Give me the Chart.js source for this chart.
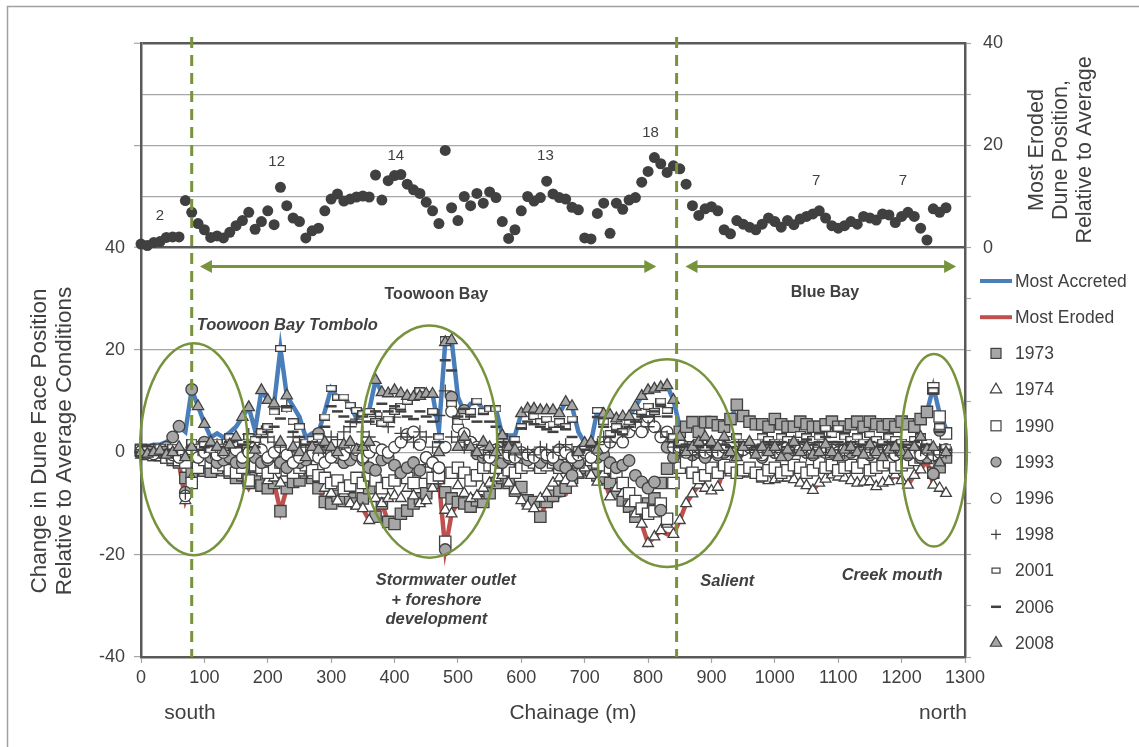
<!DOCTYPE html>
<html><head><meta charset="utf-8">
<script src="https://cdn.jsdelivr.net/npm/chart.js@4.4.0/dist/chart.umd.min.js"></script>
<style>html,body{margin:0;padding:0;background:#fff;overflow:hidden}#wrap{position:relative;width:1139px;height:747px}</style>
</head><body><div id="wrap"><canvas id="c" width="1139" height="747"></canvas></div>
<script>
// ---------------- DATA ----------------
const chainage = [0,10,20,30,40,50,60,70,80,90,
 100,110,120,130,140,150,160,170,180,190,
 200,210,220,230,240,250,260,270,280,290,
 300,310,320,330,340,350,360,370,380,390,
 400,410,420,430,440,450,460,470,480,490,
 500,510,520,530,540,550,560,570,580,590,
 600,610,620,630,640,650,660,670,680,690,
 700,710,720,730,740,750,760,770,780,790,
 800,810,820,830,840,850,860,870,880,890,
 900,910,920,930,940,950,960,970,980,990,
 1000,1010,1020,1030,1040,1050,1060,1070,1080,1090,
 1100,1110,1120,1130,1140,1150,1160,1170,1180,1190,
 1200,1210,1220,1230,1240,1250,1260,1270];

// top panel: most eroded dune position relative to average (right axis 0-40)
const mostErodedPosition = [0.7,0.4,1.0,1.2,2.0,2.1,2.1,9.2,6.9,4.7,
 3.5,2.0,2.3,1.9,3.0,4.3,5.3,6.9,3.6,5.1,
 7.2,4.5,11.8,8.2,5.8,5.1,1.9,3.3,3.8,7.2,
 9.5,10.5,9.1,9.5,9.9,10.1,9.9,14.2,9.3,13.1,
 14.1,14.3,12.4,11.3,10.6,8.9,7.2,4.7,19.0,7.8,
 5.3,10.0,8.2,10.6,8.7,10.9,9.8,5.1,1.8,3.5,
 7.2,10.0,9.1,9.8,13.0,10.5,9.8,9.5,7.9,7.4,
 1.9,1.7,6.7,8.7,2.8,8.7,7.5,9.3,9.8,12.8,
 14.9,17.6,16.4,14.7,16.0,15.4,12.4,8.2,6.3,7.6,
 8.0,7.2,3.5,2.7,5.3,4.6,4.0,3.5,4.6,5.8,
 5.1,4.0,5.3,4.5,5.6,6.1,6.6,7.2,5.8,4.3,
 3.8,4.3,5.1,4.6,6.1,5.8,5.4,6.6,6.4,4.9,
 6.1,6.9,6.1,3.8,1.5,7.6,6.9,7.8];

const mostAccreted = [1.0,1.2,1.5,1.5,2.0,3.0,5.1,4.0,12.3,9.0,
 5.7,2.9,3.7,2.9,3.9,5.0,6.9,8.8,4.3,12.1,
 10.2,9.5,20.3,11.1,9.0,6.9,2.9,3.7,3.9,8.0,
 12.5,10.8,10.8,9.2,6.6,8.2,8.2,14.1,11.7,11.5,
 12.1,11.5,11.0,10.8,12.0,11.4,11.4,4.3,21.5,22.0,
 10.8,7.9,9.5,9.8,8.5,8.5,8.5,3.3,3.3,3.3,
 7.6,8.5,8.5,8.2,8.2,8.2,7.6,9.8,9.0,4.0,
 1.8,2.0,8.2,7.5,7.3,6.6,7.0,7.0,8.9,11.0,
 12.1,12.4,12.7,13.1,10.2,5.0,5.0,5.9,4.0,5.9,
 5.9,5.3,5.0,6.5,9.3,7.1,6.0,5.5,5.5,5.0,
 6.5,5.5,5.0,5.0,6.0,5.5,5.0,5.0,5.5,6.0,
 5.0,5.0,5.5,6.0,5.0,6.0,5.5,5.0,5.5,5.0,
 6.0,5.5,5.0,6.5,7.9,12.8,7.6,4.7];

const mostEroded = [-0.5,-0.8,-1.0,-1.0,-1.2,-1.5,-2.2,-9.4,-6.0,-3.0,
 -3.6,-3.8,-3.0,-3.5,-4.0,-5.0,-4.5,-7.0,-5.0,-6.5,
 -7.0,-6.0,-11.5,-7.0,-5.8,-5.5,-4.0,-5.0,-7.0,-9.7,
 -10.0,-9.5,-9.5,-10.0,-10.5,-11.0,-13.3,-12.6,-10.0,-13.6,
 -14.0,-12.0,-11.5,-10.0,-10.0,-9.4,-7.0,-5.5,-19.0,-12.0,
 -9.7,-10.0,-10.6,-9.4,-9.7,-8.0,-6.5,-5.0,-6.0,-7.5,
 -9.4,-10.5,-11.0,-12.6,-9.7,-9.4,-8.5,-8.2,-6.0,-4.2,
 -3.0,-4.5,-5.8,-5.0,-8.7,-8.0,-9.4,-10.6,-12.6,-14.0,
 -17.8,-16.5,-15.3,-16.0,-16.0,-13.3,-10.0,-8.1,-6.4,-7.0,
 -7.5,-6.8,-3.2,-4.0,-4.5,-4.2,-4.2,-4.5,-5.2,-5.5,
 -5.3,-5.0,-5.0,-5.3,-6.0,-6.5,-7.4,-6.0,-5.2,-4.4,
 -4.8,-5.0,-5.5,-6.0,-5.8,-5.7,-6.7,-6.0,-5.7,-4.4,
 -5.5,-6.4,-4.5,-3.4,-1.6,-6.4,-7.0,-8.0];

const y1973 = [0.5,0.3,0.0,-0.3,-1.0,-1.5,-2.0,-5.0,-4.0,-3.0,
 -3.6,-3.8,-3.0,-3.5,-4.0,-5.0,-4.5,-6.0,-5.0,-6.5,
 -7.0,-6.0,-11.5,-7.0,-5.8,-5.5,-4.0,-5.0,-7.0,-9.7,
 -10.0,-8.5,-9.5,-9.0,-10.0,-9.0,-7.0,-12.6,-10.0,-13.6,
 -14.0,-12.0,-11.4,-10.0,-9.0,-8.0,-6.0,-5.0,-7.8,-9.0,
 -9.7,-10.0,-10.6,-9.4,-9.7,-8.0,-6.0,-5.0,-6.0,-7.5,
 -6.8,-9.4,-9.7,-12.6,-9.7,-8.5,-7.5,-6.9,-5.0,-4.0,
 -3.0,-3.5,-4.5,-5.0,-6.0,-8.0,-9.4,-10.6,-12.6,-11.3,
 -10.0,-9.0,-6.0,-3.2,2.0,4.0,5.0,5.9,4.0,5.9,
 5.9,5.3,5.0,6.5,9.3,7.1,6.0,5.5,5.5,5.0,
 6.5,5.5,5.0,5.0,6.0,5.5,5.0,5.0,5.5,6.0,
 5.0,5.0,5.5,6.0,5.0,6.0,5.5,5.0,5.5,5.0,
 6.0,5.5,5.0,6.5,7.9,-4.0,-2.9,-1.0];

const y1974 = [-0.5,-0.8,-1.0,-1.0,-1.2,-1.5,-2.0,-9.4,-5.0,-3.0,
 -2.5,-2.0,-2.5,-1.5,-3.0,-2.5,-3.0,-5.0,-3.0,-4.0,
 -5.5,-5.0,-6.0,-4.0,-3.0,-4.0,-3.5,-4.5,-5.0,-7.0,
 -8.0,-9.5,-8.0,-10.0,-10.5,-11.0,-13.3,-9.0,-10.0,-9.0,
 -8.5,-9.0,-7.0,-8.5,-10.0,-9.4,-7.0,-5.5,-11.3,-12.0,
 -6.5,-8.0,-9.0,-8.5,-7.0,-6.0,-5.0,-4.5,-6.0,-7.5,
 -9.4,-10.5,-11.0,-9.0,-8.0,-6.0,-5.0,-5.5,-6.0,-4.2,
 -3.0,-4.5,-5.8,-4.2,-8.7,-7.0,-8.0,-10.0,-12.0,-14.0,
 -17.8,-16.5,-15.3,-14.0,-16.0,-13.3,-10.0,-8.1,-6.4,-7.0,
 -7.5,-6.8,-3.2,-4.0,-4.5,-4.2,-4.2,-4.5,-5.2,-5.5,
 -5.3,-5.0,-5.0,-5.3,-6.0,-6.5,-7.4,-6.0,-5.2,-4.4,
 -4.8,-5.0,-5.5,-6.0,-5.8,-5.7,-6.7,-6.0,-5.7,-4.4,
 -5.5,-6.4,-4.5,-3.4,-1.6,-6.4,-7.0,-8.0];

const y1990 = [0.3,0.0,-0.5,-0.5,-1.0,-1.0,-1.5,-2.0,-6.0,-3.0,
 -1.5,-2.0,-3.0,-2.5,-3.5,-4.0,-3.0,-5.5,-2.5,-3.0,
 -4.0,-3.0,-2.0,-3.5,-4.0,-3.0,-2.5,-3.5,-4.5,-5.0,
 -6.0,-5.5,-7.0,-6.5,-5.0,-6.0,-4.5,-5.5,-7.0,-6.0,
 -5.5,-4.0,-5.0,-6.0,-3.5,-4.0,-5.0,-4.5,-17.5,-4.0,
 -3.0,-4.0,-5.5,-4.5,-3.0,-2.5,-3.0,-2.0,-3.5,-4.0,
 -3.0,-2.5,-2.0,-3.0,-2.5,-2.0,-3.0,-2.5,-1.5,-2.0,
 -1.0,-1.5,-2.0,-2.5,-3.0,-4.0,-6.0,-8.0,-9.5,-11.0,
 -12.0,-11.5,-10.0,-13.0,-6.0,-3.0,-2.0,-4.0,-5.0,-4.5,
 -3.0,-4.0,-2.5,-3.0,-4.0,-3.5,-3.0,-4.0,-4.5,-3.5,
 -3.0,-4.0,-3.5,-2.5,-3.0,-4.0,-3.5,-2.0,-3.0,-2.5,
 -3.5,-3.0,-2.5,-3.0,-2.0,-3.5,-3.0,-2.5,-2.0,-3.0,
 -2.5,-2.0,-1.5,-1.0,0.5,12.5,7.0,3.7];

const y1993 = [0.0,0.3,0.5,0.0,1.0,3.0,5.1,-7.8,12.3,1.0,
 2.0,-1.0,-2.0,-1.5,-1.0,-2.0,-2.0,0.0,-1.0,-2.0,
 -1.5,-0.5,-2.0,-3.0,-1.0,-2.0,-1.5,-0.5,3.7,1.0,
 0.0,-1.0,-2.0,-1.5,-0.5,-1.5,-3.0,-3.5,-1.5,-1.0,
 -2.5,-4.0,-3.0,-2.0,-3.5,-1.0,-2.0,-3.0,-19.0,10.8,
 7.0,8.2,2.0,-0.3,-1.0,-0.5,-1.5,-2.0,-1.0,-0.5,
 -1.0,-1.5,-0.5,-2.0,-1.0,-1.5,-2.5,-3.0,-4.5,-2.0,
 0.5,1.0,-1.0,-0.5,-2.0,-3.0,-2.5,-1.6,-4.5,-5.8,
 -7.0,-5.8,-11.3,1.0,-1.0,0.5,1.0,-0.5,0.0,-1.0,
 0.5,-0.5,0.0,1.0,-0.5,0.5,1.5,0.0,-1.0,0.5,
 0.0,1.0,-0.5,0.5,1.0,0.0,-0.5,1.0,0.5,0.0,
 0.5,-0.5,0.0,1.0,0.5,-0.5,0.0,0.5,1.0,-0.5,
 0.0,-0.5,0.5,-1.0,-1.0,-4.2,4.3,0.5];

const y1996 = [0.2,0.0,-0.3,0.5,0.0,-0.5,-1.0,-8.5,0.5,-1.0,
 0.0,1.0,-0.5,0.0,1.5,0.5,-1.0,0.0,1.0,0.5,
 -1.0,0.0,1.0,-0.5,-2.0,-1.0,0.5,-0.5,-1.0,-2.0,
 -1.0,0.0,-0.5,1.0,0.5,-1.0,0.0,1.0,0.5,0.0,
 1.0,2.0,3.5,4.0,1.5,-1.0,-2.0,-3.0,1.0,8.0,
 5.0,3.7,2.0,1.0,0.0,-1.0,0.5,0.0,-0.5,-1.0,
 0.0,-0.5,-1.0,0.0,-0.5,-1.0,0.5,0.0,-1.0,-0.5,
 0.0,-1.0,0.5,1.0,2.0,3.0,2.0,4.0,5.3,4.0,
 6.9,5.0,3.0,4.0,1.0,1.0,0.0,0.5,1.0,0.0,
 0.5,0.0,1.0,1.0,0.0,0.5,1.0,0.0,-0.5,0.5,
 0.0,0.5,1.0,1.5,0.5,0.0,0.5,1.0,0.0,0.5,
 0.0,0.5,1.0,0.5,1.0,0.0,0.0,0.5,0.5,-0.5,
 0.0,0.5,0.0,-0.5,0.5,-0.5,0.0,0.5];

const y1998 = [0.0,0.3,0.5,0.0,-0.5,0.0,0.5,-8.0,1.0,0.5,
 1.0,0.0,1.5,0.5,1.0,2.0,1.0,3.5,2.0,4.0,
 3.0,2.0,1.0,9.0,3.0,2.0,1.0,1.5,0.5,2.0,
 3.0,2.5,4.0,5.0,6.5,4.0,3.0,7.0,6.6,5.0,
 6.9,3.7,3.0,2.0,4.0,3.0,1.0,7.2,12.0,3.0,
 2.0,1.0,1.5,0.5,-0.5,0.0,0.5,1.0,0.0,-0.5,
 0.5,0.0,-0.5,1.0,0.5,0.0,1.0,1.5,0.5,0.0,
 1.0,2.0,1.5,3.0,2.0,5.0,4.0,5.5,6.0,7.0,
 5.0,7.0,4.0,3.0,1.0,0.0,0.5,-0.5,0.0,0.5,
 0.0,0.5,1.0,0.0,-0.5,0.5,1.0,0.0,0.5,1.0,
 0.0,0.5,1.0,0.5,0.0,-0.5,0.5,1.0,0.0,0.5,
 0.5,0.0,1.0,0.5,0.0,0.5,1.0,0.5,0.0,0.5,
 0.0,0.5,1.0,0.5,0.0,-0.5,0.5,0.0];

const y2001 = [0.0,0.5,0.0,1.0,0.5,1.0,0.0,-1.0,2.0,1.0,
 1.5,0.5,2.0,1.0,3.0,1.5,2.0,3.0,2.5,4.0,
 5.0,7.9,20.3,8.5,6.0,5.0,2.0,2.5,3.0,6.9,
 12.5,10.8,10.8,9.2,8.2,7.5,8.0,6.0,5.7,6.5,
 8.0,9.0,10.0,10.8,12.0,11.4,8.0,3.0,22.0,9.5,
 6.0,7.0,8.0,10.0,8.0,8.5,8.5,3.0,2.0,2.5,
 5.0,7.5,7.0,6.0,6.5,5.5,6.0,5.0,6.5,0.5,
 1.0,1.5,8.2,6.0,3.7,5.0,4.0,6.0,7.0,8.0,
 9.0,8.0,10.0,8.2,3.0,2.0,1.0,1.5,2.0,1.0,
 1.5,2.0,1.0,2.5,3.0,2.0,1.5,2.0,3.0,2.5,
 2.0,3.0,2.5,2.0,3.5,3.0,2.5,3.0,4.7,3.5,
 4.7,3.0,2.5,3.0,2.0,3.5,2.5,2.0,3.0,2.5,
 2.0,1.5,2.5,3.0,2.0,12.0,5.0,1.0];

const y2006 = [0.0,0.3,0.5,0.0,0.5,0.0,0.5,-1.0,1.0,0.5,
 1.0,1.5,0.5,1.0,2.0,1.0,1.5,2.0,1.0,3.0,
 4.0,5.0,6.6,8.8,4.0,3.0,1.5,2.0,1.0,5.0,
 9.0,8.0,7.0,6.0,5.9,7.0,6.0,8.0,9.5,8.0,
 9.0,8.0,7.0,6.5,8.0,7.0,6.0,2.0,18.0,16.0,
 7.0,8.5,7.0,6.0,7.5,6.0,5.0,2.0,1.5,2.0,
 4.7,6.0,5.5,5.0,4.5,4.0,5.0,4.5,3.0,0.0,
 0.5,1.0,6.9,5.0,3.0,4.0,3.5,5.0,6.0,7.0,
 7.0,8.0,9.0,7.0,2.0,1.0,1.5,0.5,1.0,1.5,
 1.0,0.5,1.5,1.0,2.0,1.5,0.5,1.0,1.5,2.0,
 1.5,2.0,1.0,1.5,2.0,2.5,1.5,2.0,3.0,2.0,
 2.0,1.5,2.0,1.0,1.5,2.0,1.0,1.5,2.0,1.5,
 1.0,1.5,2.0,1.0,1.5,11.5,4.0,0.5];

const y2008 = [0.0,-0.3,0.0,0.3,-0.5,0.0,1.0,-1.0,1.0,9.0,
 5.5,2.0,1.0,0.0,1.5,3.0,6.9,8.8,0.5,12.1,
 10.2,9.5,2.0,11.1,1.0,0.0,-1.0,1.0,0.5,2.0,
 1.0,0.0,1.5,2.0,0.5,1.0,2.0,14.1,11.7,11.5,
 12.1,11.5,11.0,10.8,11.0,11.4,11.4,0.0,21.5,21.9,
 1.0,3.0,1.0,0.0,2.0,1.0,0.0,3.3,1.0,0.5,
 7.6,8.5,8.5,8.2,8.2,8.2,7.6,9.8,9.0,0.0,
 1.8,2.0,0.5,7.5,7.3,6.6,7.0,7.0,8.9,11.0,
 12.1,12.4,12.7,13.1,10.2,3.0,0.0,1.0,2.0,3.0,
 2.0,1.0,3.0,0.0,-1.0,1.0,2.0,-0.5,1.0,0.0,
 1.0,-1.0,0.5,2.0,0.0,1.0,-0.5,0.0,1.5,0.0,
 -1.0,0.5,1.0,0.0,-0.5,1.5,0.0,-1.0,0.5,1.0,
 0.0,-0.5,1.0,3.0,0.5,1.0,-2.0,0.0];

const xTicks = [0,100,200,300,400,500,600,700,800,900,1000,1100,1200,1300];
const leftTickLabels = [-40,-20,0,20,40];
const rightTickLabels = [0,20,40];
const peakLabels = ['2','12','14','13','18','7','7'];
const legendNames = ['Most Accreted','Most Eroded','1973','1974','1990','1993','1996','1998','2001','2006','2008'];

// ---------------- STYLE ----------------
const FONT = "'Liberation Sans', Arial, sans-serif";
const TXT = '#404040';
const GREEN = '#77933C';
const GRAYFILL = '#A6A6A6';
const EDGE = '#404040';
const BLUE = '#4A7EBB';
const RED = '#C0504D';

function pts(arr){ return chainage.map((c,i)=>({x:c, y:arr[i]})); }

function rectImg(w,h){
  const cv=document.createElement('canvas'); cv.width=w; cv.height=h;
  const g=cv.getContext('2d'); g.fillStyle='#fff'; g.fillRect(0,0,w,h);
  g.strokeStyle=EDGE; g.lineWidth=1.3; g.strokeRect(0.65,0.65,w-1.3,h-1.3); return cv;
}
const smallRect = rectImg(11,7);

function marker(label, arr, style, radius, fill, order, extra){
  return Object.assign({label, data: pts(arr), yAxisID:'y', showLine:false,
    pointStyle: style, pointRadius: radius, pointBackgroundColor: fill,
    pointBorderColor: EDGE, pointBorderWidth: 1.3, order, clip:false}, extra||{});
}

const datasets = [
  {label:'Most Eroded Dune Position', data: pts(mostErodedPosition), yAxisID:'yR', showLine:false,
   pointStyle:'circle', pointRadius:5.5, pointBackgroundColor:'#404040', pointBorderColor:'#404040', pointBorderWidth:0, order:0, clip:false},
  marker('2008', y2008, 'triangle', 6.5, GRAYFILL, 1),
  marker('2006', y2006, 'line', 5.5, EDGE, 2, {pointBorderWidth:2.5}),
  marker('2001', y2001, smallRect, 5, '#fff', 3),
  marker('1998', y1998, 'cross', 6.5, EDGE, 4),
  marker('1996', y1996, 'circle', 5.8, '#fff', 5),
  marker('1993', y1993, 'circle', 5.8, GRAYFILL, 6),
  marker('1990', y1990, 'rect', 8, '#fff', 7),
  marker('1974', y1974, 'triangle', 6.2, '#fff', 8),
  marker('1973', y1973, 'rect', 8, GRAYFILL, 9),
  {label:'Most Eroded', data: pts(mostEroded), yAxisID:'y', showLine:true, borderColor:RED, borderWidth:4.5,
   pointRadius:0, tension:0, order:10, clip:false},
  {label:'Most Accreted', data: pts(mostAccreted), yAxisID:'y', showLine:true, borderColor:BLUE, borderWidth:4.5,
   pointRadius:0, tension:0, order:11, clip:false}
];

// ---------------- ANNOTATIONS (data coordinates, left axis) ----------------
const regionLines = [80, 845];
const arrows = [{x1:93, x2:813, y:36.3}, {x1:859, x2:1286, y:36.3}];
const ellipses = [{cx:83.5, cy:0.6, rx:85, ry:20.7}, {cx:455, cy:2.1, rx:107, ry:22.7},
                  {cx:830, cy:-2.1, rx:109, ry:20.3}, {cx:1251, cy:0.4, rx:52, ry:18.8}];
const peakPos = [{x:30,y:46.3},{x:214,y:56.7},{x:402,y:58.0},{x:638,y:58.0},{x:804,y:62.5},{x:1065,y:53.0},{x:1202,y:53.0}];

function drawMarker(ctx, kind, x, y){
  ctx.save(); ctx.lineWidth=1.2; ctx.strokeStyle=EDGE;
  const tri=(r,f)=>{ctx.beginPath();ctx.moveTo(x,y-r);ctx.lineTo(x+r*0.87,y+r*0.5);ctx.lineTo(x-r*0.87,y+r*0.5);ctx.closePath();ctx.fillStyle=f;ctx.fill();ctx.stroke();};
  switch(kind){
    case '1973': ctx.fillStyle=GRAYFILL; ctx.fillRect(x-5,y-5,10,10); ctx.strokeRect(x-5,y-5,10,10); break;
    case '1974': tri(6.5,'#fff'); break;
    case '1990': ctx.fillStyle='#fff'; ctx.fillRect(x-5,y-5,10,10); ctx.strokeRect(x-5,y-5,10,10); break;
    case '1993': ctx.beginPath(); ctx.arc(x,y,5,0,Math.PI*2); ctx.fillStyle=GRAYFILL; ctx.fill(); ctx.stroke(); break;
    case '1996': ctx.beginPath(); ctx.arc(x,y,5,0,Math.PI*2); ctx.fillStyle='#fff'; ctx.fill(); ctx.stroke(); break;
    case '1998': ctx.beginPath(); ctx.moveTo(x-5,y); ctx.lineTo(x+5,y); ctx.moveTo(x,y-5); ctx.lineTo(x,y+5); ctx.stroke(); break;
    case '2001': ctx.fillStyle='#fff'; ctx.fillRect(x-4,y-2.5,8,5); ctx.strokeRect(x-4,y-2.5,8,5); break;
    case '2006': ctx.lineWidth=2.5; ctx.beginPath(); ctx.moveTo(x-5,y); ctx.lineTo(x+5,y); ctx.stroke(); break;
    case '2008': tri(6.5,GRAYFILL); break;
  }
  ctx.restore();
}

function rotText(ctx, lines, cx, cy, lh, font){
  ctx.save(); ctx.translate(cx,cy); ctx.rotate(-Math.PI/2);
  ctx.font=font; ctx.fillStyle=TXT; ctx.textAlign='center'; ctx.textBaseline='middle';
  lines.forEach((l,i)=>ctx.fillText(l,0,(i-(lines.length-1)/2)*lh));
  ctx.restore();
}

const annotPlugin = {
  id:'annot',
  beforeDraw(chart){
    const ctx=chart.ctx; ctx.save();
    ctx.fillStyle='#fff'; ctx.fillRect(0,0,chart.width,chart.height);
    ctx.strokeStyle='#A0A0A0'; ctx.lineWidth=1.5;
    ctx.beginPath(); ctx.moveTo(7.5,chart.height); ctx.lineTo(7.5,6.5); ctx.lineTo(chart.width,6.5); ctx.stroke();
    ctx.restore();
  },
  afterDatasetsDraw(chart){
    const ctx=chart.ctx, sx=chart.scales.x, sy=chart.scales.y, a=chart.chartArea;
    const px=v=>sx.getPixelForValue(v), py=v=>sy.getPixelForValue(v);
    ctx.save();
    ctx.strokeStyle=GREEN; ctx.lineWidth=2.5;
    ellipses.forEach(e=>{ctx.beginPath(); ctx.ellipse(px(e.cx),py(e.cy),px(e.cx+e.rx)-px(e.cx),py(e.cy)-py(e.cy+e.ry),0,0,Math.PI*2); ctx.stroke();});
    ctx.setLineDash([11,7]); ctx.lineWidth=3;
    regionLines.forEach(v=>{const x=px(v); ctx.beginPath(); ctx.moveTo(x,a.top-6); ctx.lineTo(x,a.bottom); ctx.stroke();});
    ctx.setLineDash([]);
    ctx.fillStyle=GREEN; ctx.lineWidth=3;
    arrows.forEach(r=>{const x1=px(r.x1), x2=px(r.x2), y=py(r.y), h=12, w=6.5;
      ctx.beginPath(); ctx.moveTo(x1+h-2,y); ctx.lineTo(x2-h+2,y); ctx.stroke();
      ctx.beginPath(); ctx.moveTo(x1,y); ctx.lineTo(x1+h,y-w); ctx.lineTo(x1+h,y+w); ctx.closePath(); ctx.fill();
      ctx.beginPath(); ctx.moveTo(x2,y); ctx.lineTo(x2-h,y-w); ctx.lineTo(x2-h,y+w); ctx.closePath(); ctx.fill();});
    ctx.fillStyle=TXT; ctx.textBaseline='middle';
    ctx.font='15px '+FONT; ctx.textAlign='center';
    peakLabels.forEach((t,i)=>ctx.fillText(t,px(peakPos[i].x),py(peakPos[i].y)));
    ctx.font='bold 16px '+FONT;
    ctx.fillText('Toowoon Bay', px(466), py(30.9));
    ctx.fillText('Blue Bay', px(1079), py(31.3));
    ctx.font='italic bold 16.5px '+FONT;
    ctx.textAlign='left'; ctx.fillText('Toowoon Bay Tombolo', px(88), py(24.8));
    ctx.textAlign='center';
    ctx.fillText('Stormwater outlet', px(481), py(-25.0));
    ctx.fillText('+ foreshore', px(466), py(-28.9));
    ctx.fillText('development', px(466), py(-32.6));
    ctx.fillText('Salient', px(925), py(-25.2));
    ctx.fillText('Creek mouth', px(1185), py(-24.0));
    ctx.restore();
  },
  afterDraw(chart){
    const ctx=chart.ctx; ctx.save();
    rotText(ctx,['Change in Dune Face Position','Relative to Average Conditions'],52.5,441,25,'22.5px '+FONT);
    rotText(ctx,['Most Eroded','Dune Position,','Relative to Average'],1061,150,24,'21.5px '+FONT);
    ctx.fillStyle=TXT; ctx.textBaseline='middle'; ctx.textAlign='center'; ctx.font='21px '+FONT;
    ctx.fillText('Chainage (m)',573,713);
    ctx.fillText('south',190,713);
    ctx.fillText('north',943,713);
    ctx.font='17.5px '+FONT; ctx.textAlign='left';
    legendNames.forEach((n,i)=>{
      const y=281+i*36.2;
      if(i<2){ ctx.strokeStyle=i===0?BLUE:RED; ctx.lineWidth=4; ctx.beginPath(); ctx.moveTo(980,y); ctx.lineTo(1012,y); ctx.stroke(); }
      else drawMarker(ctx,n,996,y);
      ctx.fillStyle=TXT; ctx.fillText(n, 1015, y+1);
    });
    ctx.restore();
  }
};

const tickFont = {family: FONT, size: 18};
new Chart(document.getElementById('c'), {
  type:'scatter',
  data:{datasets},
  options:{
    responsive:false, animation:false, devicePixelRatio:1, events:[],
    layout:{padding:{top:43,left:0,right:0,bottom:0}},
    plugins:{legend:{display:false}, tooltip:{enabled:false}},
    scales:{
      x:{type:'linear', min:0, max:1300, position:'bottom',
         afterBuildTicks:s=>{s.ticks=xTicks.map(v=>({value:v}));},
         afterFit:s=>{s.height=90;},
         ticks:{color:TXT, font:tickFont, padding:4, maxRotation:0, autoSkip:false, callback:v=>String(v)},
         grid:{drawOnChartArea:false, tickLength:6, tickColor:'#A6A6A6', tickWidth:1.2},
         border:{color:'#595959', width:2.5}},
      y:{type:'linear', min:-40, max:80, position:'left',
         ticks:{stepSize:10, autoSkip:false, color:TXT, font:tickFont, padding:9,
                callback:v=>leftTickLabels.includes(v)?String(v):''},
         afterFit:s=>{s.width=141;},
         grid:{drawOnChartArea:true, tickLength:7, tickWidth:1.2,
               color:c=>{const v=c.tick.value; if(v===40||v===80) return '#595959'; if([-20,0,20,50,60,70].includes(v)) return '#A6A6A6'; return 'rgba(0,0,0,0)';},
               lineWidth:c=>{const v=c.tick.value; return (v===40||v===80)?2.5:1.2;},
               tickColor:c=>{const v=c.tick.value; return [-40,-20,0,20,40,60,80].includes(v)?'#A6A6A6':'rgba(0,0,0,0)';}},
         border:{color:'#595959', width:2.5}},
      yR:{type:'linear', min:-80, max:40, position:'right',
         ticks:{stepSize:10, autoSkip:false, color:TXT, font:tickFont, padding:12,
                callback:v=>rightTickLabels.includes(v)?String(v):''},
         afterFit:s=>{s.width=174;},
         grid:{drawOnChartArea:false, tickLength:6, tickWidth:1.2, tickColor:'#A6A6A6'},
         border:{color:'#595959', width:2.5}}
    }
  },
  plugins:[annotPlugin]
});
</script></body></html>
